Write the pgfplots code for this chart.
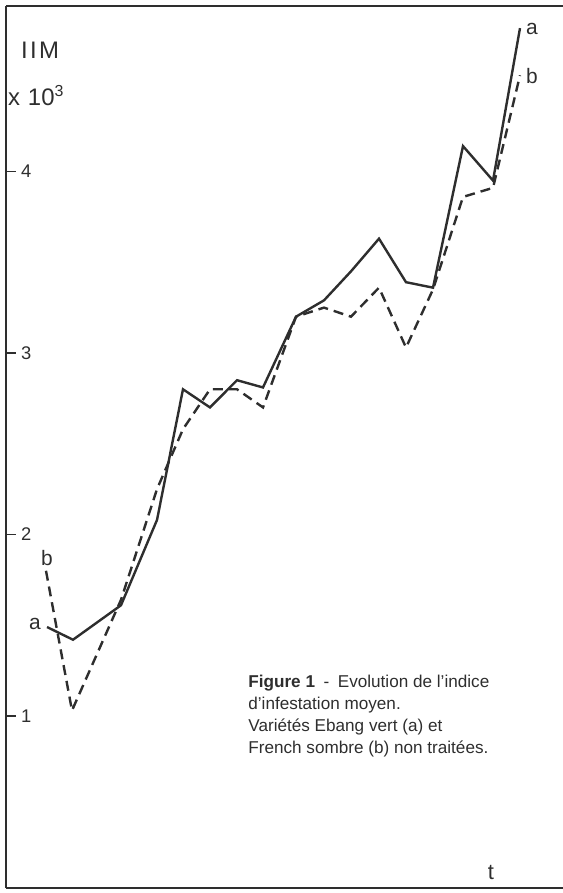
\documentclass[border=0pt]{standalone}
\usepackage{pgfplots}
\pgfplotsset{compat=1.18}
\usepackage{fontspec}
\setmainfont{Liberation Sans}
\definecolor{ink}{HTML}{2E2E2E}
\begin{document}
\begin{tikzpicture}
\begin{axis}[
  scale only axis,
  width=278.5bp, height=441bp,
  xmin=6, xmax=563,
  ymin=0.052, ymax=4.912,
  axis y line*=left,
  axis x line*=box,
  axis line style={ink, line width=1.1bp},
  xtick=\empty,
  ytick={1,2,3,4},
  ytick pos=left,
  tick align=inside,
  major tick length=5bp,
  tick style={ink, line width=0.9bp},
  /pgf/number format/assume math mode=true,
  yticklabel style={anchor=west, xshift=4bp, font=\fontsize{9.2}{10}\selectfont, text=ink},
  clip=false,
]
\addplot[ink, line width=1.2bp] coordinates {
(47,1.49) (73,1.42) (121,1.61) (157,2.08) (183,2.80) (210,2.70) (237,2.85) (263,2.81)
(296,3.20) (324,3.29) (351,3.45) (379,3.63) (406,3.39) (433,3.36) (463,4.14) (493,3.95) (520,4.79)
};
\addplot[ink, line width=1.2bp, dash pattern=on 5bp off 3bp] coordinates {
(46,1.80) (72,1.03) (121,1.64) (157,2.25) (183,2.58) (210,2.80) (237,2.80) (263,2.70)
(296,3.20) (324,3.25) (351,3.20) (379,3.36) (406,3.03) (433,3.35) (463,3.86) (493,3.91) (520,4.53)
};
\node[text=ink, font=\fontsize{12}{14}\selectfont, anchor=west] at (axis cs:14,4.669) {I\kern1.2pt I\kern1.2pt M};
\node[text=ink, font=\fontsize{12}{14}\selectfont, anchor=west] at (axis cs:1,4.42) {x\,\,10\textsuperscript{3}};
\node[text=ink, font=\fontsize{10.5}{12}\selectfont] at (axis cs:532,4.785) {a};
\node[text=ink, font=\fontsize{10.5}{12}\selectfont] at (axis cs:532,4.526) {b};
\node[text=ink, font=\fontsize{10.5}{12}\selectfont] at (axis cs:35,1.507) {a};
\node[text=ink, font=\fontsize{10.5}{12}\selectfont] at (axis cs:47,1.870) {b};
\node[text=ink, font=\fontsize{11}{12}\selectfont] at (axis cs:491,0.135) {t};
\node[text=ink, font=\fontsize{8.6}{11}\selectfont, anchor=north west, align=left, inner sep=0pt] at (axis cs:248,1.226)
  {\textbf{Figure 1}\enspace-\enspace Evolution de l’indice\\d’infestation moyen.\\Variétés Ebang vert (a) et\\French sombre (b) non traitées.};
\end{axis}
\pgfresetboundingbox
\path ([xshift=-3bp,yshift=-2.5bp]current axis.south west) rectangle ([yshift=3bp]current axis.north east);
\end{tikzpicture}
\end{document}
